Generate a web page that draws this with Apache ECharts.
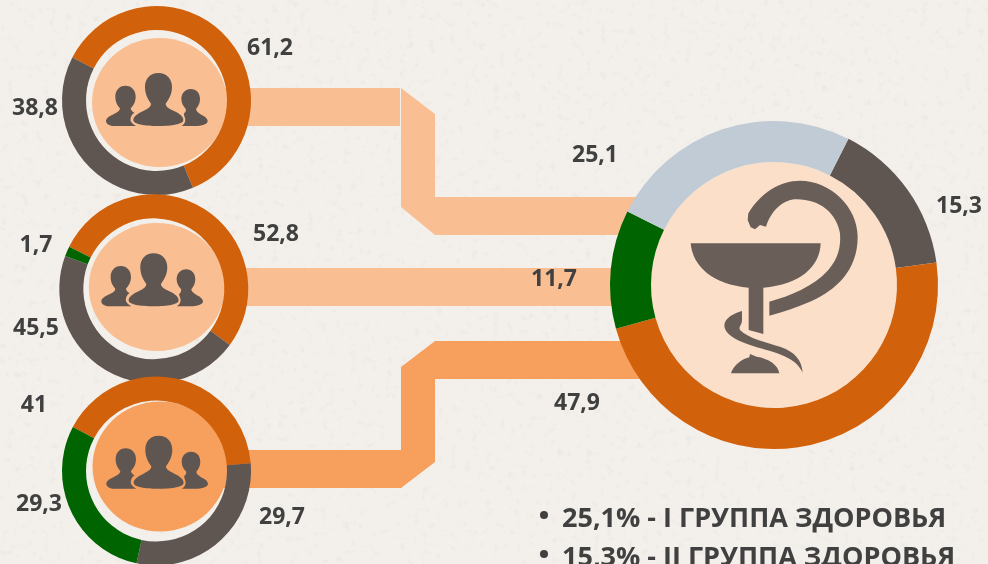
<!DOCTYPE html>
<html>
<head>
<meta charset="utf-8">
<title>Группы здоровья</title>
<style>
  html, body { margin: 0; padding: 0; width: 988px; height: 564px; overflow: hidden; background-color: #f3f0eb; }
  #texture { position: absolute; left: 0; top: 0; width: 988px; height: 564px; }
  #main { position: absolute; left: 0; top: 0; width: 988px; height: 564px; }
</style>
</head>
<body>
<!-- faint paper grain behind the chart -->
<svg id="texture" xmlns="http://www.w3.org/2000/svg">
  <filter id="grain"><feTurbulence type="fractalNoise" baseFrequency="0.14" numOctaves="3" seed="4"/>
    <feColorMatrix values="0 0 0 0 0.55  0 0 0 0 0.52  0 0 0 0 0.48  0 0 0 0.5 -0.29"/></filter>
  <rect width="988" height="564" filter="url(#grain)"/>
</svg>
<div id="main"></div>
<script src="https://cdn.jsdelivr.net/npm/echarts@6/dist/echarts.min.js"></script>
<script>
// значения колец
var topNames = ['orange', 'dark'];
var topValues = [61.2, 38.8];
var middleNames = ['orange', 'dark', 'green'];
var middleValues = [52.8, 45.5, 1.7];
var bottomNames = ['orange', 'dark', 'green'];
var bottomValues = [41, 29.7, 29.3];
var healthNames = ['dark', 'orange', 'green', 'blue'];
var healthValues = [15.3, 47.9, 11.7, 25.1];
var noteLines = ['25,1% - I ГРУППА ЗДОРОВЬЯ', '15,3% - II ГРУППА ЗДОРОВЬЯ'];

var colors = { orange: '#d2610b', dark: '#5f5551', green: '#006400', blue: '#c1cbd5' };
var textColor = '#404040';
var bandLight = '#f9be92';
var bandDark = '#f7a05e';

var font = '"Open Sans", "Noto Sans", sans-serif';

function ring(name, names, values, center, radius, startAngle, labelPos, z) {
  return {
    type: 'pie',
    name: name,
    silent: true,
    z: z,
    center: center,
    radius: radius,
    startAngle: startAngle,
    avoidLabelOverlap: false,
    label: {
      show: true,
      position: 'outside',
      fontFamily: font,
      fontWeight: 'bold',
      fontSize: 23,
      color: textColor,
      formatter: function (p) { return String(p.value).replace('.', ','); }
    },
    labelLine: { show: false },
    labelLayout: function (p) {
      return { x: labelPos[p.dataIndex][0], y: labelPos[p.dataIndex][1], align: 'center', verticalAlign: 'middle' };
    },
    data: values.map(function (v, i) {
      return { value: v, name: names[i], itemStyle: { color: colors[names[i]] } };
    })
  };
}

// силуэты людей, координаты из кропа
var peoplePath =
  'M175 24C200 24 216 42 216 66C216 90 204 106 197 116C197 124 205 130 222 138C240 146 250 155 250 165C250 178 215 183 175 183C135 183 100 178 100 165C100 155 112 146 130 138C146 130 153 124 153 116C146 106 135 90 135 66C135 42 150 24 175 24Z' +
  'M76 62C95 62 107 76 107 95C107 112 98 124 92 130C92 134 96 140 103 143C95 148 90 158 92 168C95 176 105 181 108 183L40 183C28 183 18 176 18 168C18 160 30 152 42 147C54 142 60 136 60 130C54 124 46 112 46 95C46 76 58 62 76 62Z' +
  'M272 72C290 72 300 85 300 102C300 115 293 127 288 132C288 138 295 144 305 150C316 155 323 162 323 168C323 178 305 183 285 183L245 183C256 176 258 165 254 156C252 150 250 146 254 143C258 140 258 135 257 131C251 125 244 115 244 102C244 85 256 72 272 72Z';

// чаша со змеёй
var bowlPath =
  'M32 220L422 220C420 290 360 345 250 353L250 492L206 480L206 353C100 345 38 290 32 220Z' +
  'M205 130C240 70 300 32 360 32C450 32 533 110 533 200C533 300 470 360 390 395C350 412 310 425 268 437L268 395C330 378 400 350 445 300C475 265 483 230 480 190C470 130 420 88 350 88C310 88 275 120 258 170L240 165L225 178L212 172L203 150Z' +
  'M186 423C160 430 135 445 133 465C132 490 165 510 210 525C270 545 345 555 368 608C365 570 345 545 300 530C260 518 205 505 180 480C175 470 186 465 186 450Z' +
  'M153 610C160 585 190 565 208 562L210 552L230 560C265 565 295 585 298 610Z';

echarts.graphic.registerShape('peopleIcon', echarts.graphic.extendPath(peoplePath));
echarts.graphic.registerShape('bowlIcon', echarts.graphic.extendPath(bowlPath));

function band(points, color) {
  return { type: 'polygon', z: 0, silent: true, shape: { points: points }, style: { fill: color } };
}
function disc(cx, cy, rx, ry, color) {
  return { type: 'ellipse', z: 1, silent: true, shape: { cx: cx, cy: cy, rx: rx, ry: ry }, style: { fill: color } };
}
function icon(type, x, y, color) {
  return {
    type: type, z: 5, silent: true, x: x, y: y, scaleX: 1 / 3, scaleY: 1 / 3,
    style: { fill: color }
  };
}
function note(text, y) {
  return [
    { type: 'circle', z: 5, silent: true, shape: { cx: 544, cy: y - 4, r: 4 }, style: { fill: textColor } },
    { type: 'text', z: 5, silent: true, x: 562, y: y, style: { text: text, font: 'bold 27px ' + font, fill: textColor, verticalAlign: 'middle' } }
  ];
}

var myChart = echarts.init(document.getElementById('main'), null, { renderer: 'canvas' });
myChart.setOption({
  animation: false,
  backgroundColor: 'transparent',
  graphic: {
    elements: [
      band([[218, 88], [400, 88], [400, 126], [218, 126]], bandLight),
      band([[401, 88], [435, 114], [435, 197], [640, 197], [640, 235], [435, 235], [401, 207]], bandLight),
      band([[213, 268], [620, 268], [620, 306], [213, 306]], bandLight),
      band([[218, 450], [401, 450], [401, 367], [435, 341], [645, 341], [645, 379], [435, 379], [435, 462], [401, 488], [218, 488]], bandDark),
      disc(159.5, 102.5, 67.5, 64.5, bandLight),
      disc(156.8, 287, 68, 64, bandLight),
      disc(160, 466.5, 67.5, 65, bandDark),
      disc(774, 285, 123, 123, '#fbdfc9'),
      icon('peopleIcon', 100, 65, '#5f5551'),
      icon('peopleIcon', 95.3, 245.3, '#5f5551'),
      icon('peopleIcon', 100.3, 427.7, '#5f5551'),
      icon('bowlIcon', 680, 170, '#6a5e59')
    ].concat(note(noteLines[0], 519), note(noteLines[1], 558))
  },
  series: [
    ring('top', topNames, topValues, [156.5, 100.5], [70.5, 94.5], 153, [[270, 48], [35, 108]], 2),
    ring('middle', middleNames, middleValues, [153.8, 288.8], [70.5, 94.5], 153.6, [[276, 234], [36, 328], [36, 245]], 3),
    ring('bottom', bottomNames, bottomValues, [156.5, 471], [70.5, 94.5], 152.3, [[34, 405], [282, 517], [39, 504]], 4),
    ring('health', healthNames, healthValues, [774, 285], [123, 164], 63, [[959, 206], [577, 403], [554, 279], [595, 155]], 2)
  ]
});
</script>
</body>
</html>
